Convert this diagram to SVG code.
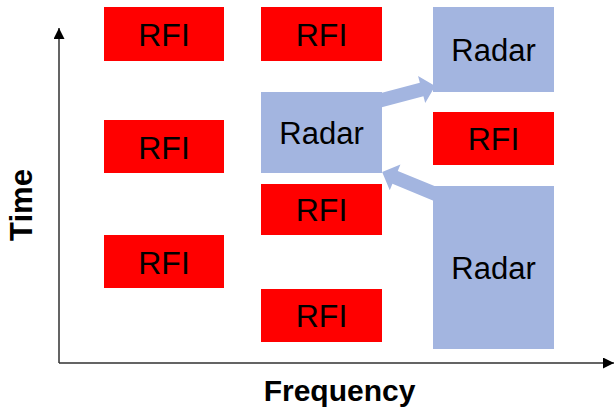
<svg xmlns="http://www.w3.org/2000/svg" width="615" height="407" viewBox="0 0 615 407">
<style>
.rfi{fill:#FF0000}
.radar{fill:#A3B5E0}
.lbl{font-family:"Liberation Sans",Arial,sans-serif;fill:#000;text-anchor:middle}
.r{font-size:32px}
.d{font-size:31px}
.ax{font-family:"Liberation Sans",Arial,sans-serif;font-weight:bold;fill:#000;text-anchor:middle}
.axis{stroke:#303030;stroke-width:1.5;fill:none}
</style>
<defs>
<marker id="ah" viewBox="0 0 11 11" refX="11" refY="5.5" markerWidth="11" markerHeight="11" markerUnits="userSpaceOnUse" orient="auto">
<path d="M0,0 L11,5.5 L0,11 Z" fill="#000"/>
</marker>
</defs>
<g id="axes">
<line class="axis" x1="59" y1="363" x2="59" y2="28" marker-end="url(#ah)"/>
<line class="axis" x1="59" y1="363" x2="614" y2="363" marker-end="url(#ah)"/>
<text class="ax" font-size="31" transform="translate(31.5,205) rotate(-90)">Time</text>
<text class="ax" font-size="30" x="339.5" y="401">Frequency</text>
</g>
<g id="connectors">
<polygon class="radar" transform="translate(382,100) rotate(-14.8)" points="-4,-7 41,-7 41,-14 55,0 41,14 41,7 -4,7"/>
<polygon class="radar" transform="translate(433,193) rotate(-157.6)" points="-4,-7 41,-7 41,-14 55,0 41,14 41,7 -4,7"/>
</g>
<g id="rfi1"><rect class="rfi" x="104" y="7" width="120" height="54"/><text class="lbl r" x="164" y="46">RFI</text></g>
<g id="rfi2"><rect class="rfi" x="104" y="120" width="120" height="53"/><text class="lbl r" x="164" y="158.5">RFI</text></g>
<g id="rfi3"><rect class="rfi" x="104" y="235" width="120" height="53"/><text class="lbl r" x="164" y="273.5">RFI</text></g>
<g id="rfi4"><rect class="rfi" x="261" y="7" width="121" height="54"/><text class="lbl r" x="321.5" y="46">RFI</text></g>
<g id="radar1"><rect class="radar" x="261" y="92" width="121" height="81"/><text class="lbl d" x="321.5" y="144">Radar</text></g>
<g id="rfi5"><rect class="rfi" x="261" y="184" width="121" height="51"/><text class="lbl r" x="321.5" y="221">RFI</text></g>
<g id="rfi6"><rect class="rfi" x="261" y="289" width="121" height="53"/><text class="lbl r" x="321.5" y="327">RFI</text></g>
<g id="radar2"><rect class="radar" x="433" y="7" width="121" height="85"/><text class="lbl d" x="493.5" y="61">Radar</text></g>
<g id="rfi7"><rect class="rfi" x="433" y="112" width="121" height="53"/><text class="lbl r" x="493.5" y="150">RFI</text></g>
<g id="radar3"><rect class="radar" x="433" y="186" width="121" height="163"/><text class="lbl d" x="493.5" y="279">Radar</text></g>
</svg>
